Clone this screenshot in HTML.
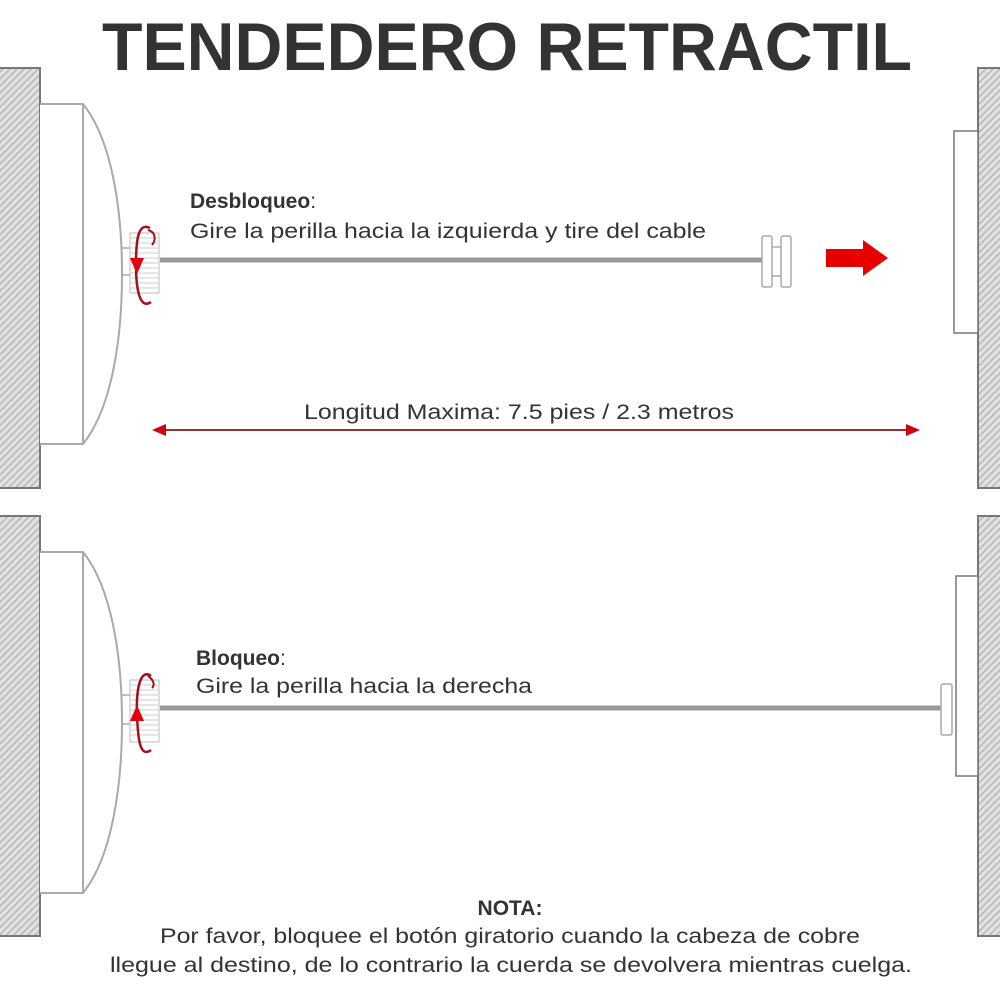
<!DOCTYPE html>
<html><head><meta charset="utf-8"><style>html,body{margin:0;padding:0;background:#fff}svg{display:block}</style></head>
<body>
<svg width="1000" height="1000" viewBox="0 0 1000 1000" xmlns="http://www.w3.org/2000/svg" font-family="Liberation Sans, Arial, sans-serif">
<defs>
<pattern id="h" width="5" height="5" patternUnits="userSpaceOnUse" patternTransform="rotate(45)">
<rect width="5" height="5" fill="#e2e2e2"/><rect width="1.6" height="5" fill="#b8b8b8"/>
</pattern>
</defs>
<rect width="1000" height="1000" fill="#fff"/>
<text x="507" y="70" font-size="68" font-weight="bold" fill="#333" text-anchor="middle" textLength="810" lengthAdjust="spacingAndGlyphs">TENDEDERO RETRACTIL</text>

<!-- TOP PANEL -->
<rect x="-2" y="68" width="42" height="420" fill="url(#h)" stroke="#777" stroke-width="2"/>
<path d="M40 104 H83 C112 140 122 210 122 274 C122 338 112 408 83 444 H40" fill="#fff" stroke="#aaa" stroke-width="2"/>
<line x1="83" y1="104" x2="83" y2="444" stroke="#aaa" stroke-width="2"/>
<line x1="122" y1="248" x2="130" y2="248" stroke="#aaa" stroke-width="1.5"/>
<line x1="122" y1="275" x2="130" y2="275" stroke="#aaa" stroke-width="1.5"/>
<line x1="160" y1="260" x2="762" y2="260" stroke="#999" stroke-width="5"/>
<g>
<rect x="130" y="233" width="29" height="60" fill="#fff" stroke="#bbb"/>
<g stroke="#ccc" stroke-width="1"><line x1="131" y1="238" x2="158" y2="238"/><line x1="131" y1="243" x2="158" y2="243"/><line x1="131" y1="248" x2="158" y2="248"/><line x1="131" y1="253" x2="158" y2="253"/><line x1="131" y1="258" x2="158" y2="258"/><line x1="131" y1="263" x2="158" y2="263"/><line x1="131" y1="268" x2="158" y2="268"/><line x1="131" y1="273" x2="158" y2="273"/><line x1="131" y1="278" x2="158" y2="278"/><line x1="131" y1="283" x2="158" y2="283"/><line x1="131" y1="288" x2="158" y2="288"/></g>
<path d="M150 228 C138 222 136 240 136 265 C136 290 140 310 151 302" fill="none" stroke="#a01020" stroke-width="2.5"/>
<path d="M148 230 C156 232 156 240 152 245" fill="none" stroke="#a01020" stroke-width="2"/>
<polygon points="130,258 144,258 137,274" fill="#e00010"/>
</g>
<rect x="762" y="236" width="10" height="51" rx="2" fill="#fff" stroke="#aaa" stroke-width="1.5"/>
<rect x="781" y="236" width="10" height="51" rx="2" fill="#fff" stroke="#aaa" stroke-width="1.5"/>
<line x1="772" y1="247" x2="781" y2="247" stroke="#aaa" stroke-width="1.5"/>
<line x1="772" y1="276" x2="781" y2="276" stroke="#aaa" stroke-width="1.5"/>
<polygon points="826,249 863,249 863,240 888,258 863,276 863,267 826,267" fill="#e60000"/>
<rect x="978" y="68" width="24" height="420" fill="url(#h)" stroke="#777" stroke-width="2"/>
<rect x="954" y="131" width="24" height="202" fill="#fff" stroke="#777" stroke-width="1.5"/>
<text x="190" y="208" font-size="21" fill="#333"><tspan font-weight="bold">Desbloqueo</tspan>:</text>
<text x="190" y="238" font-size="21" fill="#333" textLength="516" lengthAdjust="spacingAndGlyphs">Gire la perilla hacia la izquierda y tire del cable</text>

<text x="304" y="419" font-size="21" fill="#333" textLength="430" lengthAdjust="spacingAndGlyphs">Longitud Maxima: 7.5 pies / 2.3 metros</text>
<line x1="160" y1="430" x2="910" y2="430" stroke="#9a3030" stroke-width="2"/>
<polygon points="152,430 166,424 166,436" fill="#d00010"/>
<polygon points="920,430 906,424 906,436" fill="#d00010"/>

<!-- BOTTOM PANEL -->
<rect x="-2" y="516" width="42" height="420" fill="url(#h)" stroke="#777" stroke-width="2"/>
<path d="M40 552 H83 C112 588 122 658 122 722 C122 786 112 857 83 893 H40" fill="#fff" stroke="#aaa" stroke-width="2"/>
<line x1="83" y1="552" x2="83" y2="893" stroke="#aaa" stroke-width="2"/>
<line x1="122" y1="695" x2="130" y2="695" stroke="#aaa" stroke-width="1.5"/>
<line x1="122" y1="724" x2="130" y2="724" stroke="#aaa" stroke-width="1.5"/>
<line x1="160" y1="708" x2="942" y2="708" stroke="#999" stroke-width="5"/>
<g>
<rect x="130" y="680" width="29" height="62" fill="#fff" stroke="#bbb"/>
<g stroke="#ccc" stroke-width="1"><line x1="131" y1="685" x2="158" y2="685"/><line x1="131" y1="690" x2="158" y2="690"/><line x1="131" y1="695" x2="158" y2="695"/><line x1="131" y1="700" x2="158" y2="700"/><line x1="131" y1="705" x2="158" y2="705"/><line x1="131" y1="710" x2="158" y2="710"/><line x1="131" y1="715" x2="158" y2="715"/><line x1="131" y1="720" x2="158" y2="720"/><line x1="131" y1="725" x2="158" y2="725"/><line x1="131" y1="730" x2="158" y2="730"/><line x1="131" y1="735" x2="158" y2="735"/></g>
<path d="M151 676 C140 668 136 690 137 715 C138 740 140 758 151 750" fill="none" stroke="#a01020" stroke-width="2.5"/>
<path d="M148 676 C154 680 155 685 152 688" fill="none" stroke="#a01020" stroke-width="2"/>
<polygon points="130,721 144,721 137,705" fill="#e00010"/>
</g>
<rect x="978" y="516" width="24" height="420" fill="url(#h)" stroke="#777" stroke-width="2"/>
<rect x="956" y="576" width="22" height="200" fill="#fff" stroke="#777" stroke-width="1.5"/>
<rect x="941" y="684" width="11" height="51" rx="2" fill="#fff" stroke="#aaa" stroke-width="1.5"/>
<text x="196" y="665" font-size="21" fill="#333"><tspan font-weight="bold">Bloqueo</tspan>:</text>
<text x="196" y="693" font-size="21" fill="#333" textLength="336" lengthAdjust="spacingAndGlyphs">Gire la perilla hacia la derecha</text>

<text x="510" y="915" font-size="21" font-weight="bold" fill="#333" text-anchor="middle">NOTA:</text>
<text x="510" y="943" font-size="21" fill="#333" text-anchor="middle" textLength="700" lengthAdjust="spacingAndGlyphs">Por favor, bloquee el botón giratorio cuando la cabeza de cobre</text>
<text x="511" y="972" font-size="21" fill="#333" text-anchor="middle" textLength="802" lengthAdjust="spacingAndGlyphs">llegue al destino, de lo contrario la cuerda se devolvera mientras cuelga.</text>
</svg>
</body></html>
